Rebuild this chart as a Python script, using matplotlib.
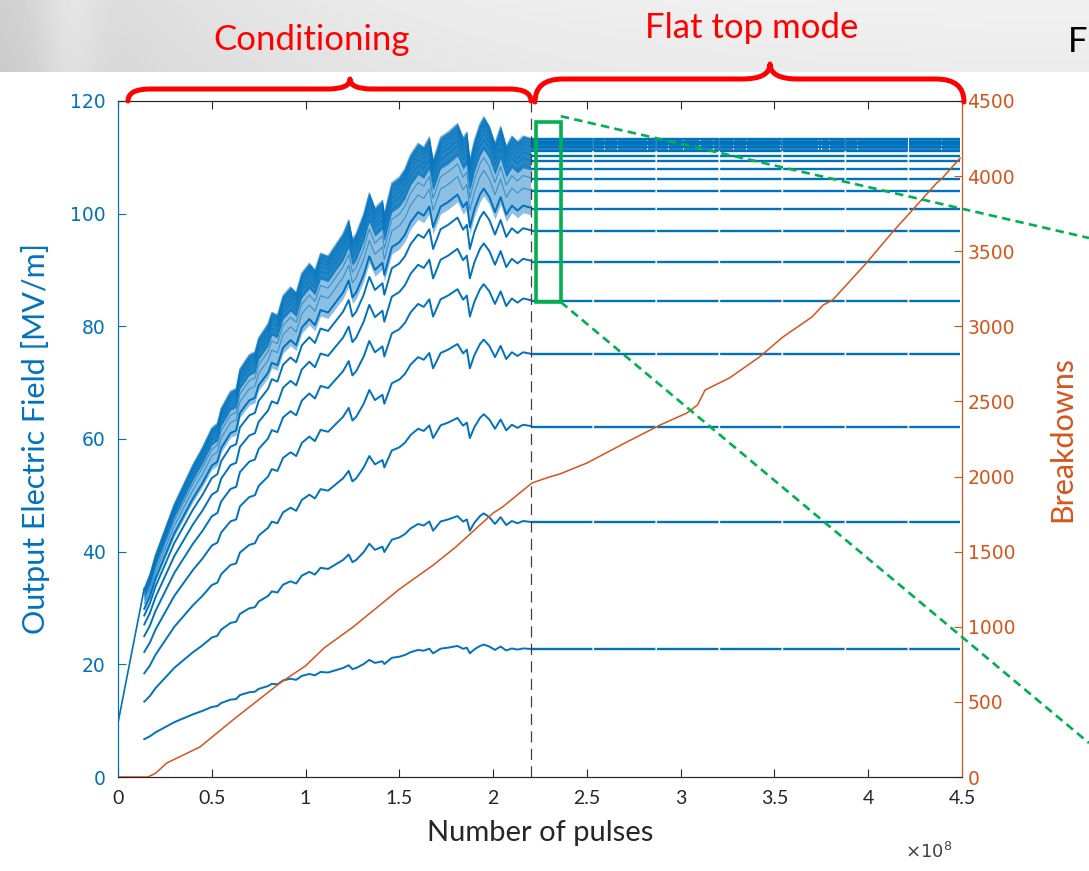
import numpy as np
import matplotlib.pyplot as plt
from matplotlib.path import Path
from matplotlib.patches import PathPatch, Rectangle
from matplotlib.lines import Line2D

# x values are in units of 1e8 pulses
# upper edge of the conditioning envelope [MV/m]
env_x = [0.14, 0.17, 0.20, 0.25, 0.30, 0.35, 0.40, 0.45, 0.50, 0.53, 0.55, 0.60, 0.63,
         0.65, 0.70, 0.73, 0.75, 0.80, 0.82, 0.85, 0.88, 0.92, 0.95, 0.98, 1.02, 1.05,
         1.08, 1.12, 1.15, 1.20, 1.23, 1.25, 1.27, 1.31, 1.34, 1.37, 1.41, 1.42, 1.46,
         1.50, 1.53, 1.56, 1.60, 1.63, 1.66, 1.68, 1.70, 1.72, 1.76, 1.81, 1.84, 1.86,
         1.876, 1.90, 1.93, 1.95, 1.98, 2.01, 2.04, 2.07, 2.10, 2.13, 2.16, 2.20]
env_y = [33.5, 36.0, 39.5, 44.0, 48.5, 52.0, 55.5, 58.5, 62.0, 62.8, 65.5, 68.5, 69.0,
         72.5, 75.0, 75.5, 78.0, 80.5, 82.5, 82.0, 85.5, 87.0, 86.0, 89.5, 91.2, 90.0,
         93.0, 92.5, 94.0, 96.5, 98.9, 95.5, 96.5, 100.0, 103.7, 101.0, 102.4, 100.0, 105.5,
         106.5, 108.0, 110.5, 112.5, 111.8, 113.6, 109.5, 111.5, 113.6, 114.5, 116.0, 113.5, 114.5,
         109.5, 113.0, 116.0, 117.2, 115.5, 112.5, 115.5, 112.0, 113.8, 112.8, 113.8, 113.4]

# initial ramp
ramp_x = [0.0, 0.14]
ramp_y = [9.6, 33.5]

# flat top field levels [MV/m]
flat_levels = [22.7, 45.2, 62.2, 75.0, 84.5, 91.5, 96.9, 100.9, 104.0, 106.2,
               108.0, 109.3, 110.3, 111.1, 111.8, 112.3, 112.8, 113.2]
flat_start = 2.2
flat_end = 4.49
band_low, band_high = 111.2, 113.4
band_gaps = [2.36, 2.59, 2.66, 2.82, 2.93, 3.01, 3.10, 3.17, 3.28, 3.35,
             3.53, 3.73, 3.75, 3.79, 3.94, 4.21, 4.39]

# cumulative breakdowns
bd_x = [0.0, 0.16, 0.20, 0.26, 0.437, 0.613, 0.864, 1.0, 1.1, 1.253, 1.41, 1.5, 1.68,
        1.8, 1.86, 2.0, 2.05, 2.207, 2.30, 2.356, 2.5, 2.713, 2.89, 3.033, 3.09, 3.13,
        3.26, 3.42, 3.545, 3.70, 3.76, 3.81, 3.99, 4.13, 4.26, 4.365, 4.39, 4.49]
bd_y = [0, 0, 25, 93, 200, 380, 626, 740, 860, 998, 1158, 1250, 1410,
        1530, 1598, 1757, 1797, 1957, 1997, 2017, 2090, 2230, 2343, 2423, 2477, 2576,
        2656, 2796, 2929, 3062, 3142, 3175, 3421, 3628, 3808, 3954, 3980, 4120]

BLUE = '#0072BD'
ORANGE = '#D95319'
RED = '#FF0000'
GREEN = '#00B050'
DARK = '#262626'

W, H = 1089, 871
fig = plt.figure(figsize=(W / 100, H / 100), dpi=100)

# grey slide banner at the top
bg = fig.add_axes([0, 1 - 72 / H, 1, 72 / H], zorder=-5)
cols = np.arange(W)
shade = 0.945 - 0.13 * np.exp(-cols / 260.0)
shade = shade + 0.05 * np.exp(-((cols - 70) / 30.0) ** 2)
grad = np.tile(shade, (72, 1))
grad = grad + np.linspace(0.0, -0.02, 72)[:, None]
bg.imshow(grad, cmap='gray', vmin=0, vmax=1, aspect='auto', extent=[0, 1, 0, 1])
bg.axis('off')

ax = fig.add_axes([118 / W, 1 - 777 / H, (962 - 118) / W, (777 - 101) / H])
ax2 = ax.twinx()

env_x_a = np.array(env_x)
env_y_a = np.array(env_y)
top = max(flat_levels)

# dense band near the top of the envelope during conditioning
ax.fill_between(env_x_a, env_y_a * 0.95, env_y_a, color=BLUE, alpha=0.85, lw=0)
ax.fill_between(env_x_a, env_y_a * 0.88, env_y_a * 0.95, color=BLUE, alpha=0.45, lw=0)

for lvl in flat_levels:
    frac = lvl / top
    ax.plot(env_x_a, env_y_a * frac, color=BLUE, lw=1.4 if frac < 0.9 else 0.8,
            alpha=1.0 if frac < 0.9 else 0.6)
    ax.plot([flat_start, flat_end], [lvl, lvl], color=BLUE, lw=1.7,
            linestyle=(0, (26, 0.7)))
ax.plot(ramp_x, ramp_y, color=BLUE, lw=1.2)

# flat-top dense band with white streaks
edges = [flat_start] + band_gaps + [flat_end]
segs = []
for a, b in zip(edges[:-1], edges[1:]):
    a0 = a + 0.006 if a != flat_start else a
    segs.append((a0, b - a0))
ax.broken_barh(segs, (band_low, band_high - band_low), facecolor=BLUE, alpha=0.85, lw=0)

# separation between the two modes
ax.axvline(2.2, color='#404040', lw=0.9, linestyle=(0, (9, 5)))

# zoom box
ax.add_patch(Rectangle((2.228, 84.3), 2.361 - 2.228, 116.3 - 84.3, fill=False,
                       edgecolor=GREEN, lw=2.6, zorder=5))

ax2.plot(bd_x, bd_y, color=ORANGE, lw=1.1)

ax.set_xlim(0, 4.5)
ax.set_ylim(0, 120)
ax2.set_ylim(0, 4500)
ax.set_xticks(np.arange(0, 4.51, 0.5))
ax.set_xticklabels(['0', '0.5', '1', '1.5', '2', '2.5', '3', '3.5', '4', '4.5'],
                   fontfamily='Lato', fontsize=14, color=DARK)
ax.set_yticks(range(0, 121, 20))
ax2.set_yticks(range(0, 4501, 500))

ax.tick_params(axis='x', direction='in', length=6, width=0.8, top=True, pad=9, colors=DARK)
ax.tick_params(axis='y', direction='in', length=6, width=0.8, colors=BLUE, labelsize=13.5, pad=9)
ax2.tick_params(axis='y', direction='in', length=6, width=0.8, colors=ORANGE, labelsize=13.5, pad=4)
for lab in ax.get_xticklabels():
    lab.set_color(DARK)

for a in (ax, ax2):
    a.spines['top'].set_color(DARK)
    a.spines['bottom'].set_color(DARK)
    a.spines['left'].set_color(BLUE)
    a.spines['right'].set_color(ORANGE)

ax.set_ylabel('Output Electric Field [MV/m]', color=BLUE, fontfamily='Lato', fontsize=22, labelpad=14)
ax2.set_ylabel('Breakdowns', color=ORANGE, fontfamily='Lato', fontsize=22, labelpad=24)
ax.set_xlabel('Number of pulses', color=DARK, fontfamily='Lato', fontsize=21, labelpad=10)
fig.text(905 / W, 1 - 852 / H, r'$\times10^{8}$', color='#404040', fontsize=13,
         va='center', ha='left')


def px(x, y):
    return (x / W, 1 - y / H)


def brace(x0, x1, xc, ytip, yflat, ycusp, r):
    pts = [(x0, ytip), (x0, yflat), (x0 + r, yflat), (xc - r, yflat),
           (xc, yflat), (xc, ycusp), (xc, yflat), (xc + r, yflat),
           (x1 - r, yflat), (x1, yflat), (x1, ytip)]
    codes = [Path.MOVETO, Path.CURVE3, Path.CURVE3, Path.LINETO,
             Path.CURVE3, Path.CURVE3, Path.CURVE3, Path.CURVE3,
             Path.LINETO, Path.CURVE3, Path.CURVE3]
    p = Path([px(*q) for q in pts], codes)
    fig.add_artist(PathPatch(p, fill=False, edgecolor=RED, lw=3.6,
                             transform=fig.transFigure, capstyle='round', joinstyle='round'))


brace(128, 531, 350, 101, 89, 79, 22)
brace(535, 964, 770, 102, 79, 64, 28)

fig.text(*px(312, 40), 'Conditioning', color=RED, fontfamily='Lato', fontsize=25,
         ha='center', va='center')
fig.text(*px(752, 28), 'Flat top mode', color=RED, fontfamily='Lato', fontsize=25,
         ha='center', va='center')
fig.text(*px(1068, 42), 'F', color='black', fontfamily='Lato', fontsize=25,
         ha='left', va='center')

# dashed zoom lines to the right edge
for (dx, dy), (ex, ey) in [((2.361, 117.3), (1089, 238)), ((2.361, 84.3), (1089, 743))]:
    sx, sy = fig.transFigure.inverted().transform(ax.transData.transform((dx, dy)))
    fig.add_artist(Line2D([sx, ex / W], [sy, 1 - ey / H], color=GREEN, lw=1.9,
                          linestyle=(0, (3.2, 2)), transform=fig.transFigure))

fig.savefig('out.png', dpi=100)
